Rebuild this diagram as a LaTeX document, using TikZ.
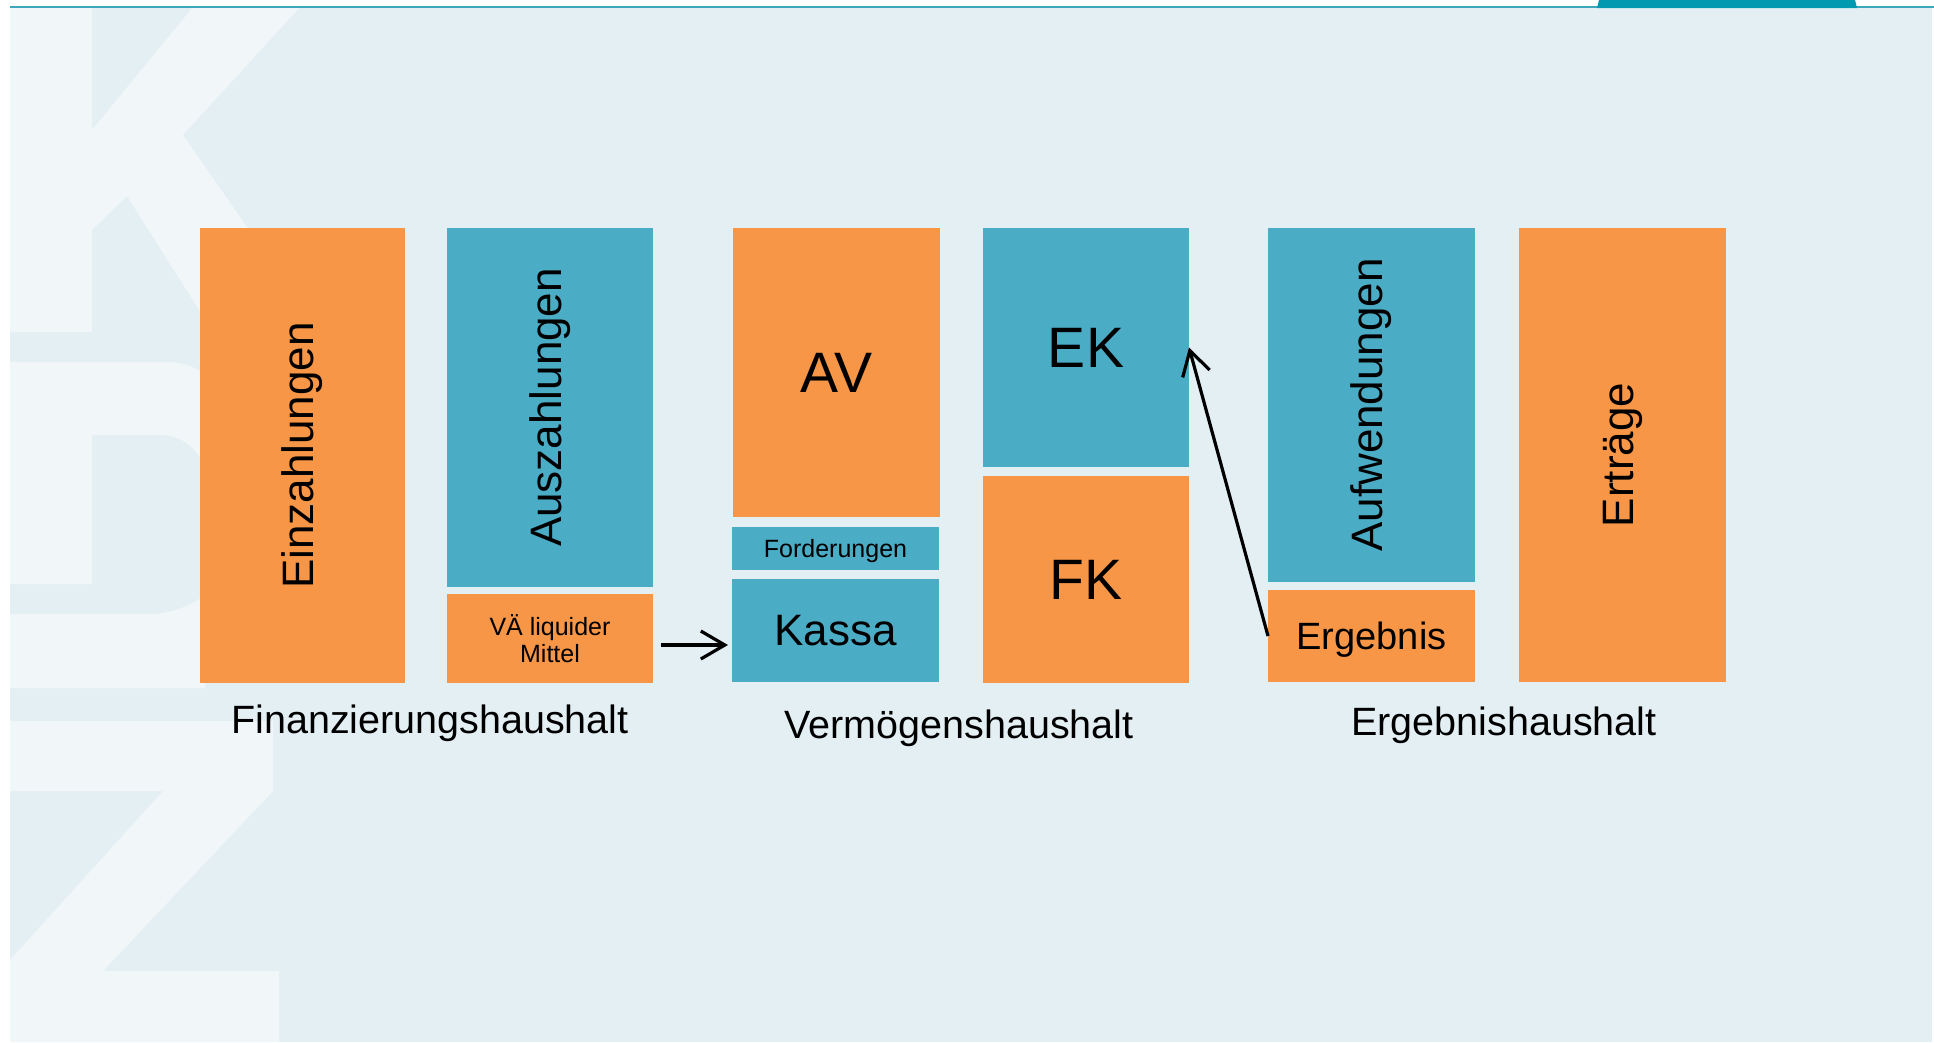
\documentclass[tikz,border=0pt]{standalone}
\usepackage{fontspec}
\setmainfont{Liberation Sans}
\usetikzlibrary{arrows.meta}
\definecolor{orng}{HTML}{F79646}
\definecolor{aqua}{HTML}{4BACC6}
\definecolor{bgblue}{HTML}{E4EFF4}
\definecolor{wmark}{HTML}{F1F6F9}
\definecolor{topline}{HTML}{3BA7BA}
\definecolor{tabcol}{HTML}{0099AF}
\begin{document}
\begin{tikzpicture}[x=1pt,y=-1pt,
  box/.style={minimum width=206pt, inner sep=0pt, outer sep=0pt, draw=none, text=black, align=center},
  obox/.style={box, fill=orng},
  bbox/.style={box, fill=aqua},
  fbig/.style={font=\fontsize{57}{60}\selectfont},
  fmid/.style={font=\fontsize{44}{48}\selectfont},
  ferg/.style={font=\fontsize{38}{42}\selectfont},
  fsmall/.style={font=\fontsize{25}{27}\selectfont},
  flabel/.style={font=\fontsize{39.5}{44}\selectfont, inner sep=0pt, anchor=base, text=black},
  conn/.style={line width=3.2pt, -{Straight Barb[length=24pt,width=28pt]}},
]
\useasboundingbox (0,0) rectangle (1934,1042);
% background
\fill[white] (0,0) rectangle (1934,1042);
\fill[bgblue] (10,7) rectangle (1932,1042);
\begin{scope}
\clip (10,7) rectangle (1932,1042);
% watermark K
\fill[wmark] (0,7) -- (92,7) -- (92,130) -- (193,7) -- (300,7) -- (183,135)
  -- (320,332) -- (213,332) -- (127,196) -- (92,230) -- (92,332) -- (0,332) -- cycle;
% watermark D-like shape
\fill[wmark] (0,362) -- (165,362) .. controls (185,362) and (198,368) .. (210,378)
  -- (210,470) .. controls (195,450) and (185,435) .. (160,435)
  -- (92,435) -- (92,584) -- (0,584) -- cycle;
\fill[wmark] (0,614) -- (150,614) .. controls (172,614) and (188,606) .. (205,596)
  -- (205,688) -- (0,688) -- cycle;
% watermark Z
\fill[wmark] (0,721) -- (273,721) -- (273,791) -- (103,971) -- (279,971) -- (279,1042)
  -- (0,1042) -- (0,960) -- (10,960) -- (163,791) -- (0,791) -- cycle;
\end{scope}
% top line and tab
\draw[topline, line width=2pt] (10,7) -- (1934,7);
\fill[tabcol] (1597,8) -- (1599,0) -- (1855,0) -- (1857,8) -- cycle;

% Finanzierungshaushalt
\node[obox, fmid, minimum width=205pt, minimum height=455pt] (einz) at (302.5,455.5) {\rotatebox{90}{Einzahlungen}};
\node[bbox, fmid, minimum height=359pt] (ausz) at (550,407.5) {\rotatebox{90}{Auszahlungen}};
\node[obox, fsmall, minimum height=89pt] (vae) at (550,638.5) {VÄ liquider\\Mittel};
% Vermoegenshaushalt
\node[obox, fbig, minimum width=207pt, minimum height=289pt] (av) at (836.5,372.5) {AV};
\node[bbox, fsmall, text depth=0pt, minimum width=207pt, minimum height=43pt] (ford) at (835.5,548.5) {Forderungen};
\node[bbox, fmid, minimum width=207pt, minimum height=103pt] (kassa) at (835.5,630.5) {Kassa};
\node[bbox, fbig, minimum height=239pt] (ek) at (1086,347.5) {EK};
\node[obox, fbig, minimum height=207pt] (fk) at (1086,579.5) {FK};
% Ergebnishaushalt
\node[bbox, fmid, minimum width=207pt, minimum height=354pt] (aufw) at (1371.5,405) {\rotatebox{90}{Aufwendungen}};
\node[obox, ferg, text depth=0pt, minimum width=207pt, minimum height=92pt] (erg) at (1371.5,636) {Ergebnis};
\node[obox, fmid, minimum width=207pt, minimum height=454pt] (ertr) at (1622.5,455) {\rotatebox{90}{Erträge}};

% section labels
\node[flabel] (finl) at (430,733) {Finanzierungshaushalt};
\node[flabel] (verml) at (959,738) {Vermögenshaushalt};
\node[flabel] (ergl) at (1504,735) {Ergebnishaushalt};

% connectors
\coordinate (arrowy) at (0,645);
\draw[conn, shorten <=8pt, shorten >=4pt] (vae.east |- arrowy) -- (kassa.west |- arrowy);
\draw[conn] (erg.west) -- (ek.east);
\end{tikzpicture}
\end{document}
